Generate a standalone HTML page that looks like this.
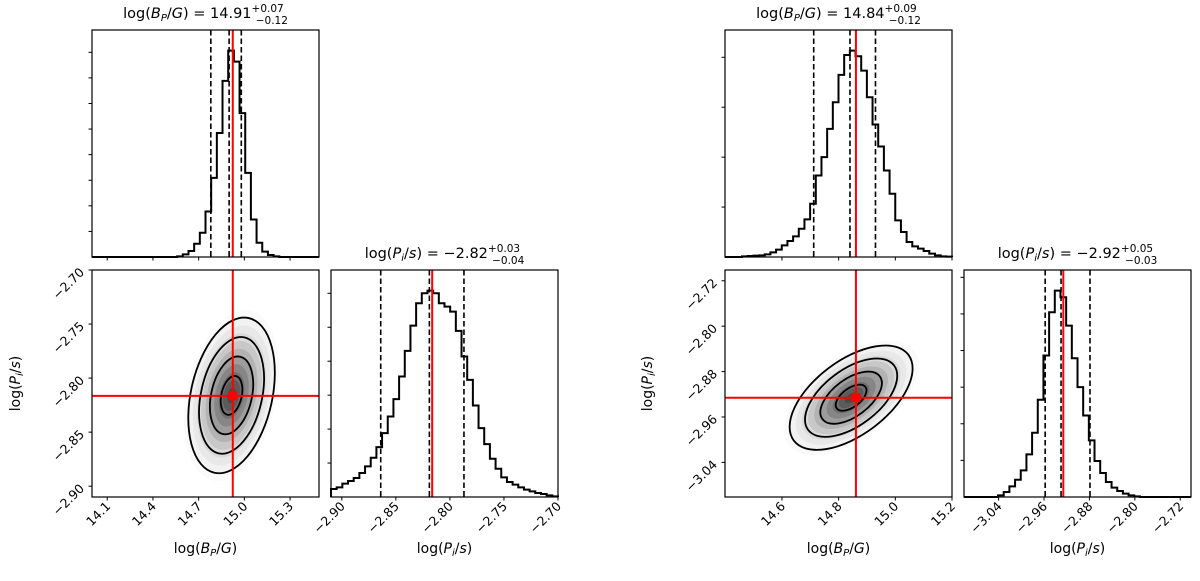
<!DOCTYPE html>
<html><head><meta charset="utf-8">
<style>
html,body{margin:0;padding:0;background:#fff;}
svg{display:block;font-family:"DejaVu Sans","Liberation Sans",sans-serif;}
</style></head>
<body>
<svg id="fig" width="1200" height="581" viewBox="0 0 1200 581" xmlns="http://www.w3.org/2000/svg"></svg>
<script>
// ===== Corner 1 data =====
const c1BTicks = [14.1, 14.4, 14.7, 15.0, 15.3];
const c1BTickLabels = ["14.1", "14.4", "14.7", "15.0", "15.3"];
const c1PTicks = [-2.90, -2.85, -2.80, -2.75, -2.70];
const c1PTickLabels = ["\u22122.90", "\u22122.85", "\u22122.80", "\u22122.75", "\u22122.70"];
const c1BRange = [14.0, 15.49];
const c1PRange = [-2.910, -2.700];
const c1BCounts = [0,0,0,0,0,0,0,0,0,0,0,0,0,0,0,2,8,18,40,73,137,238,373,530,621,588,433,253,113,43,16,6,2,0,0,0,0,0,0,0];
const c1PCounts = [24,29,40,48,57,72,92,118,150,192,242,294,362,439,515,582,612,620,612,582,572,557,499,422,352,275,207,159,115,85,59,45,37,29,22,17,12,9,5,2];
const c1BQuantiles = [14.78, 14.90, 14.98];
const c1PQuantiles = [-2.864, -2.819, -2.787];
const c1Truth = [14.924, -2.8164];
const c1Gauss = [14.916, -2.816, 0.142, 0.036, 0.29]; // meanB, meanP, sdB, sdP, rho
const c1BTitle = ["14.91", "+0.07", "\u22120.12"];
const c1PTitle = ["\u22122.82", "+0.03", "\u22120.04"];
// ===== Corner 2 data =====
const c2BTicks = [14.6, 14.8, 15.0, 15.2];
const c2BTickLabels = ["14.6", "14.8", "15.0", "15.2"];
const c2PTicks = [-3.04, -2.96, -2.88, -2.80, -2.72];
const c2PTickLabels = ["\u22123.04", "\u22122.96", "\u22122.88", "\u22122.80", "\u22122.72"];
const c2BRange = [14.399, 15.2];
const c2PRange = [-3.101, -2.701];
const c2BCounts = [0,0,0,2,3,4,5,8,14,22,35,48,62,85,113,160,245,300,385,465,547,607,620,603,560,480,398,332,260,190,110,75,45,32,25,18,10,5,2,1];
const c2PCounts = [0,0,0,0,0,0,5,15,32,52,80,128,193,292,425,555,620,600,515,417,330,245,170,108,72,45,28,18,10,5,2,0,0,0,0,0,0,0,0,0];
const c2BQuantiles = [14.712, 14.84, 14.93];
const c2PQuantiles = [-2.958, -2.930, -2.879];
const c2Truth = [14.861, -2.926];
const c2Gauss = [14.844, -2.926, 0.1085, 0.046, 0.56];
const c2BTitle = ["14.84", "+0.09", "\u22120.12"];
const c2PTitle = ["\u22122.92", "+0.05", "\u22120.03"];

const NS = "http://www.w3.org/2000/svg";
const svg = document.getElementById('fig');
function mk(tag, attrs, parent) {
  const e = document.createElementNS(NS, tag);
  for (const k in attrs) e.setAttribute(k, attrs[k]);
  (parent || svg).appendChild(e);
  return e;
}
function lin(d0, d1, r0, r1) { return v => r0 + (v - d0) / (d1 - d0) * (r1 - r0); }

function drawTitle(g, cx, y, name, vals, label) {
  const t = mk('text', {x: cx, y: y, 'text-anchor': 'middle', 'font-size': 14.5}, g);
  
  
  t.innerHTML = name + ' = ' + vals[0] +
    '<tspan font-size="10.5" dy="-6">' + vals[1] + '</tspan>' +
    '<tspan font-size="10.5" dx="-28" dy="12">' + vals[2] + '</tspan>';
}
const labB = 'log(<tspan font-style="italic">B</tspan><tspan font-style="italic" font-size="10" dy="3">P</tspan><tspan dy="-3">/</tspan><tspan font-style="italic">G</tspan>)';
const labP = 'log(<tspan font-style="italic">P</tspan><tspan font-style="italic" font-size="10" dy="3">i</tspan><tspan dy="-3">/</tspan><tspan font-style="italic">s</tspan>)';

function frame(g, x0, y0, w, h, name) {
  const r = mk('rect', {x: x0, y: y0, width: w, height: h, fill: 'none', stroke: '#000', 'stroke-width': 1.2}, g);
  
  
}

function histPanel(g, x0, y0, w, h, range, counts, quantiles, truth, ticks, tickStep, name) {
  const sx = lin(range[0], range[1], x0, x0 + w);
  const maxC = Math.max(...counts);
  const sy = lin(0, maxC * 1.1, y0 + h, y0);
  const n = counts.length, bw = (range[1] - range[0]) / n;
  let d = 'M' + sx(range[0]) + ',' + sy(0);
  for (let i = 0; i < n; i++) {
    const a = sx(range[0] + i * bw), b = sx(range[0] + (i + 1) * bw);
    d += ' L' + a + ',' + sy(counts[i]) + ' L' + b + ',' + sy(counts[i]);
  }
  d += ' L' + sx(range[1]) + ',' + sy(0);
  const p = mk('path', {d: d, fill: 'none', stroke: '#000', 'stroke-width': 2, 'stroke-linejoin': 'miter'}, g);
  
  
  quantiles.forEach((q, i) => {
    const l = mk('line', {x1: sx(q), x2: sx(q), y1: y0, y2: y0 + h, stroke: '#000', 'stroke-width': 1.6, 'stroke-dasharray': '5.5,3'}, g);
    
    
  });
  const t = mk('line', {x1: sx(truth), x2: sx(truth), y1: y0, y2: y0 + h, stroke: '#ff0000', 'stroke-width': 2}, g);
  
  
  for (let v = tickStep; v <= maxC * 1.1; v += tickStep) {
    const tk = mk('line', {x1: x0 - 3.5, x2: x0, y1: sy(v), y2: sy(v), stroke: '#000', 'stroke-width': 1}, g);
    
    
  }
  ticks.forEach(v => {
    const tk = mk('line', {x1: sx(v), x2: sx(v), y1: y0 + h, y2: y0 + h + 3.5, stroke: '#000', 'stroke-width': 1}, g);
    
    
  });
  frame(g, x0, y0, w, h, name + '-frame');
  return sx;
}

function xTickLabels(g, sx, y, ticks, labels, name) {
  ticks.forEach((v, i) => {
    const t = mk('text', {x: sx(v) + 4, y: y, 'text-anchor': 'end', 'font-size': 12.5, transform: 'rotate(-45 ' + (sx(v) + 4) + ' ' + y + ')'}, g);
    
    
    t.textContent = labels[i];
  });
}

function drawCorner(X0, X1, Y0, Y1, W, H, bRange, pRange, bCounts, pCounts, bQ, pQ, truth, gauss,
                    bTicks, bLabels, pTicks, pLabels, bTitle, pTitle, stepB, stepP, ylabX, id) {
  const g = mk('g', {});
  
  
  histPanel(g, X0, Y0, W, H, bRange, bCounts, bQ, truth[0], bTicks, stepB, 'bp-hist-' + id);
  drawTitle(g, X0 + W / 2, Y0 - 12, labB, bTitle, 'bp-title-' + id);
  const sxP = histPanel(g, X1, Y1, W, H, pRange, pCounts, pQ, truth[1], pTicks, stepP, 'pi-hist-' + id);
  drawTitle(g, X1 + W / 2, Y1 - 12, labP, pTitle, 'pi-title-' + id);
  xTickLabels(g, sxP, Y1 + H + 10, pTicks, pLabels, 'pi-x');
  const sx = lin(bRange[0], bRange[1], X0, X0 + W);
  const sy = lin(pRange[0], pRange[1], Y1 + H, Y1);
  const cid = 'clip' + id;
  const cp = mk('clipPath', {id: cid}, g);
  mk('rect', {x: X0, y: Y1, width: W, height: H}, cp);
  const g2 = mk('g', {'clip-path': 'url(#' + cid + ')'}, g);
  
  
  const kx = W / (bRange[1] - bRange[0]), ky = H / (pRange[1] - pRange[0]);
  const sxp = gauss[2] * kx, syp = gauss[3] * ky, rho = gauss[4];
  const a = sxp * sxp, b = syp * syp, c = -rho * sxp * syp;
  const th = 0.5 * Math.atan2(2 * c, a - b) * 180 / Math.PI;
  const disc = Math.sqrt(((a - b) / 2) ** 2 + c * c);
  const l1 = Math.sqrt((a + b) / 2 + disc), l2 = Math.sqrt((a + b) / 2 - disc);
  const cx = sx(gauss[0]), cy = sy(gauss[1]);
  const ops = [0.02, 0.03, 0.04, 0.06, 0.08, 0.1, 0.12, 0.14, 0.16, 0.18, 0.2];
  ops.forEach((op, i) => {
    const k = 2.2 - i * 0.2;
    mk('ellipse', {cx: cx, cy: cy, rx: k * l1, ry: k * l2, transform: 'rotate(' + th + ' ' + cx + ' ' + cy + ')', fill: '#000', 'fill-opacity': op}, g2);
  });
  [0.5, 1, 1.5, 2].forEach(k => {
    const e = mk('ellipse', {cx: cx, cy: cy, rx: k * l1, ry: k * l2, transform: 'rotate(' + th + ' ' + cx + ' ' + cy + ')', fill: 'none', stroke: '#000', 'stroke-width': 1.8}, g2);
    
    
  });
  const vl = mk('line', {x1: sx(truth[0]), x2: sx(truth[0]), y1: Y1, y2: Y1 + H, stroke: '#ff0000', 'stroke-width': 2}, g2);
  
  
  const hl = mk('line', {x1: X0, x2: X0 + W, y1: sy(truth[1]), y2: sy(truth[1]), stroke: '#ff0000', 'stroke-width': 2}, g2);
  
  
  const m = mk('rect', {x: sx(truth[0]) - 4.5, y: sy(truth[1]) - 4.5, width: 9, height: 9, fill: '#ff0000'}, g2);
  
  
  bTicks.forEach(v => {
    const tk = mk('line', {x1: sx(v), x2: sx(v), y1: Y1 + H, y2: Y1 + H + 3.5, stroke: '#000', 'stroke-width': 1}, g);
    
    
  });
  pTicks.forEach((v, i) => {
    const tk = mk('line', {x1: X0 - 3.5, x2: X0, y1: sy(v), y2: sy(v), stroke: '#000', 'stroke-width': 1}, g);
    
    
    const tx = X0 - 7, ty = sy(v) + 3;
    const t = mk('text', {x: tx, y: ty, 'text-anchor': 'end', 'font-size': 12.5, transform: 'rotate(-45 ' + tx + ' ' + ty + ')'}, g);
    
    
    t.textContent = pLabels[i];
  });
  xTickLabels(g, sx, Y1 + H + 10, bTicks, bLabels, 'bp-x');
  frame(g, X0, Y1, W, H, 'joint-frame-' + id);
  const xl1 = mk('text', {x: X0 + W / 2, y: Y1 + H + 56, 'text-anchor': 'middle', 'font-size': 14}, g);
  
  
  xl1.innerHTML = labB;
  const xl2 = mk('text', {x: X1 + W / 2, y: Y1 + H + 56, 'text-anchor': 'middle', 'font-size': 14}, g);
  
  
  xl2.innerHTML = labP;
  const yy = Y1 + H / 2;
  const yl = mk('text', {x: ylabX, y: yy, 'text-anchor': 'middle', 'font-size': 14, transform: 'rotate(-90 ' + ylabX + ' ' + yy + ')'}, g);
  
  
  yl.innerHTML = labP;
}

drawCorner(92, 331, 30, 270, 227, 227, c1BRange, c1PRange, c1BCounts, c1PCounts, c1BQuantiles, c1PQuantiles,
  c1Truth, c1Gauss, c1BTicks, c1BTickLabels, c1PTicks, c1PTickLabels, c1BTitle, c1PTitle, 77, 102, 20, 'left');
drawCorner(725, 964, 30, 270, 227, 227, c2BRange, c2PRange, c2BCounts, c2PCounts, c2BQuantiles, c2PQuantiles,
  c2Truth, c2Gauss, c2BTicks, c2BTickLabels, c2PTicks, c2PTickLabels, c2BTitle, c2PTitle, 150, 110, 652, 'right');
</script>
</body></html>
